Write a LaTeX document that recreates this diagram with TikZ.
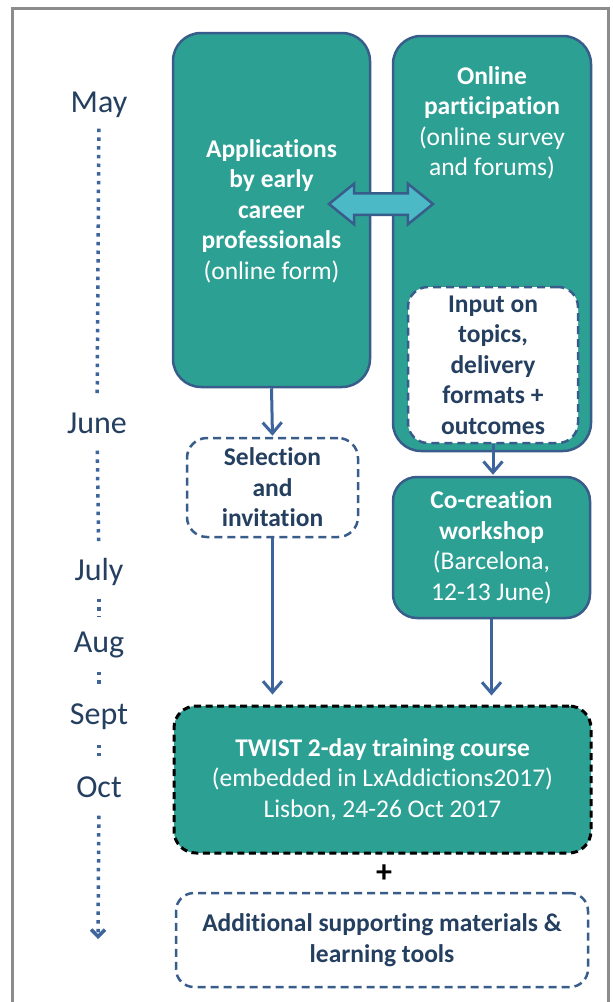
\documentclass[tikz,border=0pt]{standalone}
\usepackage{fontspec}
\setmainfont{Carlito}[Ligatures=NoCommon]
\usetikzlibrary{arrows.meta,shapes.arrows,calc}
\definecolor{teal1}{HTML}{2DA094}
\definecolor{edgeblue}{HTML}{385D8A}
\definecolor{arrowblue}{HTML}{3D649C}
\definecolor{darktext}{HTML}{243F60}
\definecolor{lightarrow}{HTML}{4BB9C6}
\definecolor{framegray}{HTML}{8C8C8C}
\tikzset{
  x=1pt, y=-1pt,
  boxfont/.style={font=\fontsize{25.5}{30.5}\selectfont},
  tealbox/.style={draw=edgeblue, line width=2.5pt, fill=teal1, rounded corners=28pt,
    text=white, boxfont, align=center, inner sep=0pt},
  whitebox/.style={draw=edgeblue, line width=2.5pt, fill=white, dash pattern=on 8pt off 5pt,
    rounded corners=20pt, text=darktext, boxfont, align=center, inner sep=0pt},
  boxtext/.style={boxfont, align=center, inner sep=0pt},
  month/.style={font=\fontsize{32}{38}\selectfont, text=darktext, inner sep=0pt,
    text height=21pt, text depth=6pt},
  dotline/.style={draw=arrowblue, line width=3.5pt, dash pattern=on 3.5pt off 5.2pt},
  flow/.style={draw=arrowblue, line width=3pt, -{Straight Barb[length=11pt,width=19pt,line width=3pt]}},
}
\begin{document}
\begin{tikzpicture}
\useasboundingbox (0,0) rectangle (613,1002);
\fill[white] (0,0) rectangle (613,1002);
% outer frame
\draw[framegray, line width=3pt] (12,1020) -- (12,8.5) -- (608.5,8.5) -- (608.5,1020);

% months
\node[month] (may)  at (99,105) {May};
\node[month] (june) at (97,426) {June};
\node[month] (july) at (99,573) {July};
\node[month] (aug)  at (99,645) {Aug};
\node[month] (sept) at (99,717) {Sept};
\node[month] (oct)  at (99,790) {Oct};
\coordinate (tlend) at (98,939);

\draw[dotline, shorten <=10pt, shorten >=19pt] (may) -- (june);
\draw[dotline, shorten <=11pt, shorten >=14pt] (june) -- (july);
\draw[dotline, shorten <=12pt, shorten >=14pt] (july) -- (aug);
\draw[dotline, shorten <=13pt, shorten >=16pt] (aug) -- (sept);
\draw[dotline, shorten <=14pt, shorten >=20pt] (sept) -- (oct);
\draw[dotline, shorten <=12pt, -{Straight Barb[length=7pt,width=14pt,line width=3.5pt]}] (oct) -- (tlend);

% boxes
\node[tealbox, minimum width=197pt, minimum height=354pt] (app) at (271.5,210) {};
\node[boxtext, text=white] (apptext) at (271.5,211)
  {\textbf{Applications}\\\textbf{by early}\\\textbf{career}\\\textbf{professionals}\\(online form)};

\node[tealbox, minimum width=198pt, minimum height=415pt] (online) at (492,243.5) {};
\node[boxtext, text=white] (onlinetext) at (492,123)
  {\textbf{Online}\\\textbf{participation}\\(online survey\\and forums)};

\node[whitebox, minimum width=170pt, minimum height=156pt] (input) at (493,365)
  {\textbf{Input on}\\\textbf{topics,}\\\textbf{delivery}\\\textbf{formats +}\\\textbf{outcomes}};

\node[whitebox, minimum width=171pt, minimum height=99pt] (sel) at (272.5,487.5)
  {\textbf{Selection}\\\textbf{and}\\\textbf{invitation}};

\node[tealbox, rounded corners=24pt, minimum width=197pt, minimum height=141pt] (cocre) at (491.5,547.5)
  {\textbf{Co-creation}\\\textbf{workshop}\\(Barcelona,\\12-13 June)};

\node[tealbox, draw=black, line width=3pt, dash pattern=on 7pt off 4.5pt, rounded corners=22pt,
  minimum width=417pt, minimum height=147pt] (twist) at (382.5,779.5)
  {\textbf{TWIST 2-day training course}\\(embedded in LxAddictions2017)\\Lisbon, 24-26 Oct 2017};

\node[font=\fontsize{32}{38}\selectfont\bfseries, inner sep=0pt] (plus) at (384,874) {+};

\node[whitebox, rounded corners=18pt, minimum width=412pt, minimum height=94pt] (add) at (382,940)
  {\textbf{Additional supporting materials \&}\\\textbf{learning tools}};

% double arrow
\node[double arrow, draw=edgeblue, line width=2.5pt, fill=lightarrow,
  inner xsep=0pt, inner ysep=9.5pt, double arrow head extend=9.5pt, double arrow tip angle=78,
  minimum height=104pt, shape border rotate=0] (dbl) at (381,204) {};

% flow arrows
\draw[flow, shorten >=1pt] (app.south) -- (sel.north);
\draw[flow, shorten >=1pt] (input.south) -- (input.south |- cocre.north);
\draw[flow, shorten >=10pt] (sel.south) -- (sel.south |- twist.north);
\draw[flow, shorten >=9pt] (cocre.south) -- (cocre.south |- twist.north);
\end{tikzpicture}
\end{document}
